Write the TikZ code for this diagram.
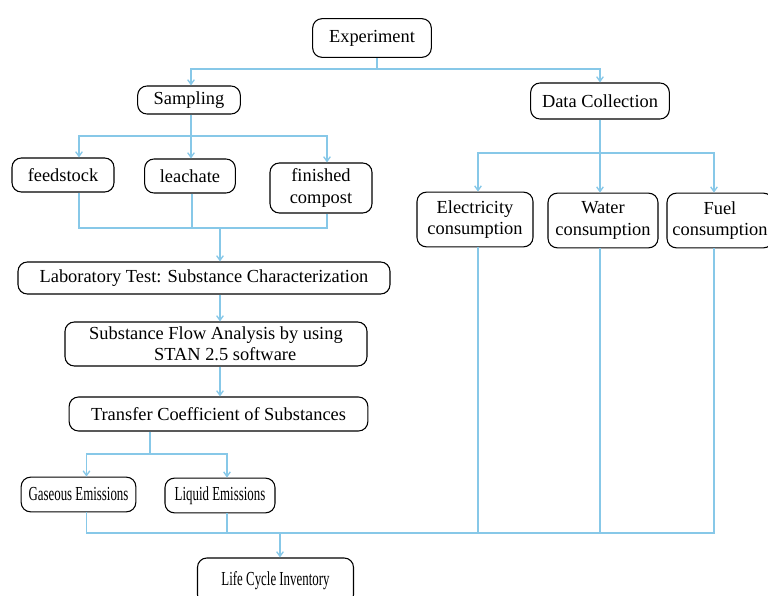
\documentclass[tikz,border=0pt]{standalone}
\usepackage{fontspec}
\setmainfont{Liberation Serif}
\usetikzlibrary{arrows.meta}
\definecolor{flowblue}{RGB}{135,200,232}
\tikzset{
    box/.style={draw, rounded corners=7pt, line width=0.8pt, inner sep=0pt, align=center,
        font=\fontsize{13.8}{16}\selectfont},
    flow/.style={draw=flowblue, line width=1pt},
    >={Straight Barb[length=3.5pt,width=5pt]}
}
\newcommand{\narrow}[1]{\scalebox{0.7}[1.08]{#1}}
\begin{document}
\begin{tikzpicture}[x=0.75pt,y=-0.75pt]
    \useasboundingbox (0,0) rectangle (768,596);

    % Top level
    \node[box, minimum width=89pt, minimum height=29pt] (exp) at (372,38) {Experiment};
    \node[box, minimum width=77pt, minimum height=21pt] (samp) at (189,100) {Sampling};
    \node[box, minimum width=104pt, minimum height=27pt] (data) at (600,101) {Data Collection};

    % Samples
    \node[box, minimum width=76.5pt, minimum height=25.5pt] (feed) at (63,175) {feedstock};
    \node[box, minimum width=68pt, minimum height=25.5pt] (leach) at (190,176) {leachate};
    \node[box, minimum width=76.5pt, minimum height=37.5pt] (fin) at (321,188) {finished\\compost};

    % Consumption data
    \node[box, minimum width=87pt, minimum height=41pt] (elec) at (475,219.5) {Electricity\\consumption};
    \node[box, minimum width=82.5pt, minimum height=41pt] (water) at (603,220.5) {Water\\consumption};
    \node[box, minimum width=79.5pt, minimum height=41pt] (fuel) at (720,220.5) {Fuel\\consumption};

    % Analysis chain
    \node[box, minimum width=279pt, minimum height=24pt] (lab) at (204,278) {Laboratory Test: Substance Characterization};
    \node[box, minimum width=226.5pt, minimum height=33pt] (sfa) at (216,344) {Substance Flow Analysis by using\\ \quad STAN 2.5 software};
    \node[box, minimum width=224pt, minimum height=25.5pt] (trans) at (218.5,414) {Transfer Coefficient of Substances};
    \node[box, minimum width=86pt, minimum height=26pt] (gas) at (78.5,494.5) {\narrow{Gaseous Emissions}};
    \node[box, minimum width=82.5pt, minimum height=26pt] (liq) at (220,495.5) {\narrow{Liquid Emissions}};
    \node[box, minimum width=117pt, minimum height=34.5pt] (inv) at (275.5,581) {\narrow{Life Cycle Inventory}};

    % Junctions
    \coordinate (jExp) at (377,69);
    \coordinate (jSamp) at (191,136);
    \coordinate (jMat) at (220,228);
    \coordinate (jData) at (600,153);
    \coordinate (jTrans) at (150,454);
    \coordinate (jInv) at (280,533);

    % Experiment branches
    \draw[flow] (exp.south -| jExp) -- (jExp);
    \draw[flow,->] (jExp) -| (samp.north -| jSamp);
    \draw[flow,->] (jExp) -| (data.north);

    % Sampling branches
    \draw[flow] (samp.south -| jSamp) -- (jSamp);
    \draw[flow,->] (jSamp) -| ([xshift=12pt]feed.north);
    \draw[flow,->] (jSamp) -- (jSamp |- leach.north);
    \draw[flow,->] (jSamp) -| ([xshift=4.5pt]fin.north);
    \draw[flow] ([xshift=12pt]feed.south) |- (jMat);
    \draw[flow] ([xshift=1.5pt]leach.south) |- (jMat);
    \draw[flow] ([xshift=4.5pt]fin.south) |- (jMat);
    \draw[flow,->] (jMat) -- (jMat |- lab.north);

    % Chain down
    \draw[flow,->] (lab.south -| jMat) -- (sfa.north -| jMat);
    \draw[flow,->] (sfa.south -| jMat) -- (trans.north -| jMat);
    \draw[flow] (trans.south -| jTrans) -- (jTrans);
    \draw[flow,->] (jTrans) -| ([xshift=6pt]gas.north);
    \draw[flow,->] (jTrans) -| ([xshift=5.25pt]liq.north);

    % Data collection branches
    \draw[flow] (data) -- (jData);
    \draw[flow,->] (jData) -| ([xshift=2.25pt]elec.north);
    \draw[flow,->] (jData) -- (jData |- water.north);
    \draw[flow,->] (jData) -| ([xshift=-4.5pt]fuel.north);

    % Into the inventory
    \draw[flow] ([xshift=6pt]gas.south) |- (jInv);
    \draw[flow] ([xshift=5.25pt]liq.south) |- (jInv);
    \draw[flow] ([xshift=2.25pt]elec.south) |- (jInv);
    \draw[flow] (water.south -| jData) |- (jInv);
    \draw[flow] ([xshift=-4.5pt]fuel.south) |- (jInv);
    \draw[flow,->] (jInv) -- (jInv |- inv.north);
\end{tikzpicture}
\end{document}
